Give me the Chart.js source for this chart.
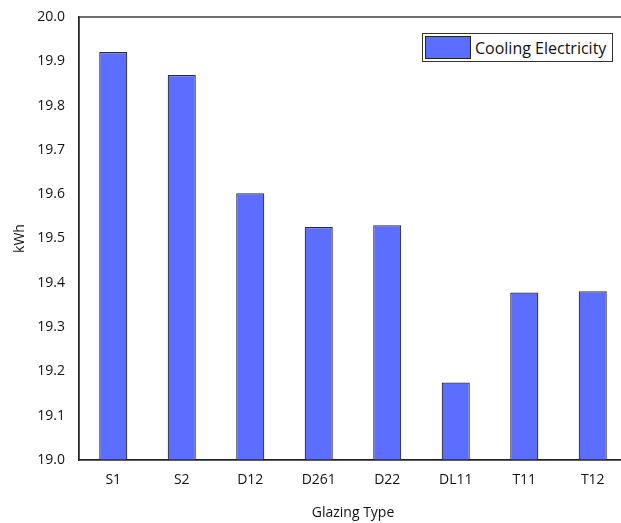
<!DOCTYPE html>
<html>
<head>
<meta charset="utf-8">
<script src="https://cdn.jsdelivr.net/npm/chart.js@4/dist/chart.umd.min.js"></script>
<style>
  html, body { margin: 0; padding: 0; background: #fff; overflow: hidden; }
  #wrap { position: relative; width: 630px; height: 523px; }
  #legend {
    position: absolute; left: 422px; top: 33px; width: 189px; height: 27px;
    border: 1px solid #333; background: #fff; box-sizing: content-box;
    font-family: "Open Sans", sans-serif; font-size: 16px; color: #111;
    display: flex; align-items: center; white-space: nowrap;
  }
  #legend .swatch {
    width: 44px; height: 21px; margin-left: 2px; margin-right: 4px;
    border: 1px solid #222; box-sizing: content-box; flex: none;
  }
</style>
</head>
<body>
<div id="wrap">
  <canvas id="chart" width="630" height="523"></canvas>
  <div id="legend"></div>
</div>
<script>
// Glazing types and their cooling electricity use (kWh)
const categories = ['S1', 'S2', 'D12', 'D261', 'D22', 'DL11', 'T11', 'T12'];
const coolingElectricity = [19.921, 19.869, 19.602, 19.526, 19.530, 19.175, 19.378, 19.381];
const seriesLabel = 'Cooling Electricity';
const yMin = 19.0;
const yMax = 20.0;
const yStep = 0.1;

const barColor = '#5c6eff';
const edgeColor = '#2a2a3a';
const textColor = '#111';
const fontFamily = '"Open Sans", sans-serif';

// Frame around the plot area (top and right edges)
const frame = {
  id: 'frame',
  afterDraw(chart) {
    const { ctx, chartArea: a } = chart;
    ctx.save();
    ctx.strokeStyle = '#222';
    ctx.lineWidth = 1.3;
    ctx.strokeRect(a.left, a.top, a.right - a.left, a.bottom - a.top);
    ctx.restore();
  }
};

new Chart(document.getElementById('chart'), {
  type: 'bar',
  data: {
    labels: categories,
    datasets: [{
      label: seriesLabel,
      data: coolingElectricity,
      backgroundColor: barColor,
      borderColor: edgeColor,
      borderWidth: 1.2,
      barPercentage: 0.41,
      categoryPercentage: 1
    }]
  },
  options: {
    responsive: false,
    animation: false,
    layout: { padding: { top: 17, right: 3, left: 0, bottom: 0 } },
    plugins: {
      legend: { display: false },
      tooltip: { enabled: false }
    },
    scales: {
      x: {
        grid: { display: false, drawTicks: false },
        border: { display: true, color: '#222', width: 1.3 },
        ticks: { color: textColor, font: { family: fontFamily, size: 14 }, padding: 12 },
        title: {
          display: true, text: 'Glazing Type', color: textColor,
          font: { family: fontFamily, size: 14 }, padding: { top: 4, bottom: 2 }
        },
        afterFit(scale) { scale.height = 63; }
      },
      y: {
        min: yMin,
        max: yMax,
        grid: { display: false, drawTicks: false },
        border: { display: true, color: '#222', width: 1.3 },
        ticks: {
          stepSize: yStep,
          color: textColor,
          font: { family: fontFamily, size: 14 },
          padding: 14,
          callback: (v) => Number(v).toFixed(1)
        },
        title: {
          display: true, text: 'kWh', color: textColor,
          font: { family: fontFamily, size: 14 }, padding: { top: 12, bottom: 4 }
        },
        afterFit(scale) {
          scale.width = 79;
          scale.paddingTop = 0;
          scale.paddingBottom = 0;
        }
      }
    }
  },
  plugins: [frame]
});

// Boxed legend in the upper right of the plot
const legend = document.getElementById('legend');
const sw = document.createElement('span');
sw.className = 'swatch';
sw.style.background = barColor;
const txt = document.createElement('span');
txt.textContent = seriesLabel;
legend.appendChild(sw);
legend.appendChild(txt);
</script>
</body>
</html>
